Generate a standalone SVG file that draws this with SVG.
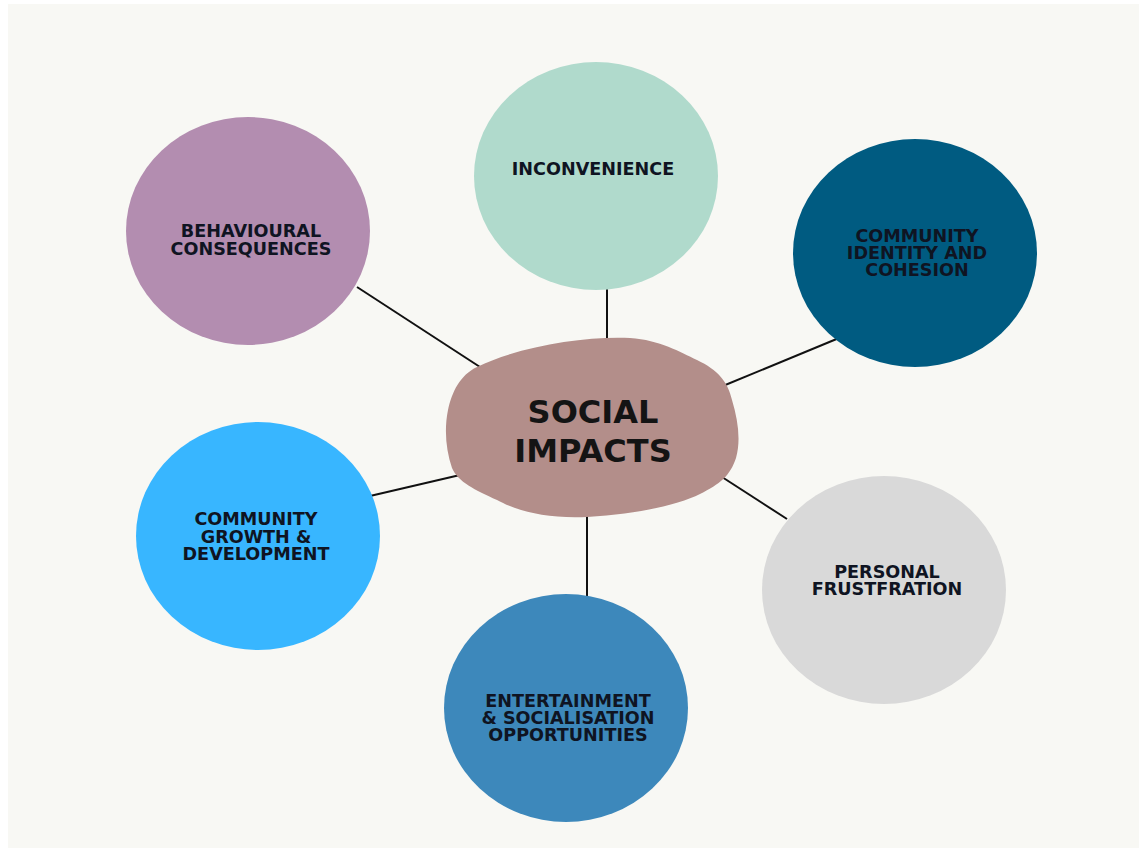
<svg xmlns="http://www.w3.org/2000/svg" width="1141" height="850" viewBox="0 0 1141 850">
  <style>
    .lbl { font-family: "DejaVu Sans", "Liberation Sans", sans-serif; font-weight: 700; font-size: 17.6px; fill: #0f1422; text-anchor: middle; }
    .hub { font-family: "DejaVu Sans", "Liberation Sans", sans-serif; font-weight: 700; font-size: 32px; fill: #141414; text-anchor: middle; }
    .edge { stroke: #111; stroke-width: 2; fill: none; }
  </style>
  <rect width="1141" height="850" fill="#ffffff"/>
  <rect x="8" y="4" width="1131" height="844" fill="#f8f8f4"/>

  <g id="connectors">
    <line class="edge" x1="357" y1="287" x2="480" y2="367"/>
    <line class="edge" x1="607" y1="288" x2="607" y2="340"/>
    <line class="edge" x1="839" y1="338" x2="718" y2="388"/>
    <line class="edge" x1="370" y1="496" x2="460" y2="475"/>
    <line class="edge" x1="722" y1="477" x2="787" y2="519"/>
    <line class="edge" x1="587" y1="516" x2="587" y2="598"/>
  </g>

  <g id="behavioural">
    <ellipse cx="248" cy="231" rx="122" ry="114" fill="#b38db0"/>
    <text class="lbl" x="251" y="237">BEHAVIOURAL</text>
    <text class="lbl" x="251" y="255">CONSEQUENCES</text>
  </g>

  <g id="inconvenience">
    <ellipse cx="596" cy="176" rx="122" ry="114" fill="#b0dacc"/>
    <text class="lbl" x="593" y="175">INCONVENIENCE</text>
  </g>

  <g id="community-identity">
    <ellipse cx="915" cy="253" rx="122" ry="114" fill="#005b81"/>
    <text class="lbl" x="917" y="242">COMMUNITY</text>
    <text class="lbl" x="917" y="259">IDENTITY AND</text>
    <text class="lbl" x="917" y="276">COHESION</text>
  </g>

  <g id="community-growth">
    <ellipse cx="258" cy="536" rx="122" ry="114" fill="#38b6ff"/>
    <text class="lbl" x="256" y="525">COMMUNITY</text>
    <text class="lbl" x="256" y="543">GROWTH &amp;</text>
    <text class="lbl" x="256" y="560">DEVELOPMENT</text>
  </g>

  <g id="personal-frustration">
    <ellipse cx="884" cy="590" rx="122" ry="114" fill="#d9d9d9"/>
    <text class="lbl" x="887" y="578">PERSONAL</text>
    <text class="lbl" x="887" y="595">FRUSTFRATION</text>
  </g>

  <g id="entertainment">
    <ellipse cx="566" cy="708" rx="122" ry="114" fill="#3d88bb"/>
    <text class="lbl" x="568" y="707">ENTERTAINMENT</text>
    <text class="lbl" x="568" y="724">&amp; SOCIALISATION</text>
    <text class="lbl" x="568" y="741">OPPORTUNITIES</text>
  </g>

  <g id="social-impacts">
    <path fill="#b38e8a" d="M477 367 C520 346 585 336 630 338 C660 340 680 352 697 360 C718 370 728 382 732 400 C738 420 741 440 736 458 C730 476 720 484 700 494 C680 504 640 514 587 517 C545 519 515 510 497 500 C475 490 458 482 452 468 C446 450 444 430 448 410 C452 392 460 375 477 367 Z"/>
    <text class="hub" x="593" y="423">SOCIAL</text>
    <text class="hub" x="593" y="462">IMPACTS</text>
  </g>
</svg>
